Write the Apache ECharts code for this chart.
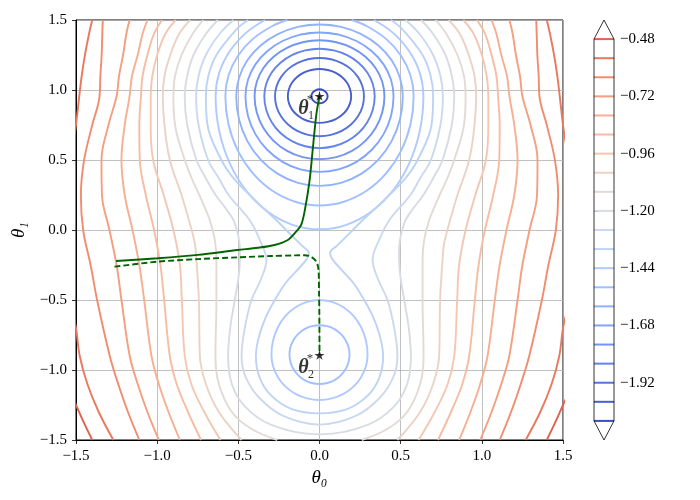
<!DOCTYPE html>
<html><head><meta charset="utf-8">
<script src="https://cdn.jsdelivr.net/npm/echarts@6/dist/echarts.min.js"></script>
<style>html,body{margin:0;padding:0;background:#fff}#c{width:700px;height:500px}</style>
</head><body><div id="c"></div>
<script>
// ---------- data ----------
const levels = [-2.08,-2.00,-1.92,-1.84,-1.76,-1.68,-1.60,-1.52,-1.44,-1.36,-1.28,-1.20,-1.12,-1.04,-0.96,-0.88,-0.80,-0.72,-0.64,-0.56,-0.48];
const cbTicks = [-0.48,-0.72,-0.96,-1.20,-1.44,-1.68,-1.92];

// right half (theta0 >= 0) of every contour level; the left half is its mirror image
const c208 = [[[0,1.005],[0.025,0.998],[0.043,0.98],[0.05,0.955],[0.043,0.93],[0.025,0.912],[0,0.905]]];
const c200 = [[[0,1.15],[0.0505,1.143],[0.0975,1.124],[0.1379,1.093],[0.1689,1.053],[0.1884,1.006],[0.195,0.955],[0.1884,0.906],[0.1689,0.86],[0.1379,0.821],[0.0975,0.79],[0.0505,0.772],[0,0.765]]];
const c192 = [[[0,1.229],[0.0709,1.22],[0.137,1.192],[0.1937,1.149],[0.2373,1.092],[0.2647,1.026],[0.274,0.955],[0.2647,0.881],[0.2373,0.813],[0.1937,0.754],[0.137,0.708],[0.0709,0.68],[0,0.67]]];
const c184 = [[[0,1.295],[0.088,1.283],[0.17,1.249],[0.2404,1.195],[0.2944,1.125],[0.3284,1.043],[0.34,0.955],[0.3284,0.859],[0.2944,0.77],[0.2404,0.693],[0.17,0.635],[0.088,0.598],[0,0.585]]];
const c176 = [[[0,1.355],[0.1035,1.341],[0.2,1.301],[0.2828,1.238],[0.3464,1.155],[0.3864,1.059],[0.4,0.955],[0.3864,0.839],[0.3464,0.73],[0.2828,0.637],[0.2,0.565],[0.1035,0.52],[0,0.505]]];
const c168 = [[[0,1.411],[0.118,1.396],[0.228,1.35],[0.3224,1.277],[0.3949,1.183],[0.4405,1.073],[0.456,0.955],[0.4405,0.815],[0.3949,0.685],[0.3224,0.573],[0.228,0.487],[0.118,0.433],[0,0.415]]];
const c160 = [[[0,1.468],[0.1328,1.451],[0.2565,1.399],[0.3627,1.318],[0.4443,1.212],[0.4955,1.088],[0.513,0.955],[0.4955,0.789],[0.4443,0.635],[0.3627,0.502],[0.2565,0.401],[0.1328,0.337],[0,0.315]]];
const c152 = [
  [[0.198,1.5],[0.29,1.457],[0.4101,1.365],[0.5023,1.245],[0.5602,1.105],[0.58,0.955],[0.5602,0.753],[0.5023,0.565],[0.4101,0.404],[0.29,0.28],[0.1501,0.202],[0,0.175]],
  [[0,-0.68],[0.0479,-0.687],[0.0925,-0.708],[0.1308,-0.742],[0.16,-0.785],[0.1787,-0.836],[0.185,-0.89],[0.1787,-0.944],[0.16,-0.995],[0.1308,-1.038],[0.0925,-1.072],[0.0479,-1.093],[0,-1.10]]
];
const c144 = [
  [[0.336,1.5],[0.453,1.408],[0.554,1.275],[0.618,1.121],[0.64,0.955],[0.618,0.709],[0.554,0.48],[0.453,0.283],[0.32,0.132],[0.166,0.037],[0,0.005]],
  [[0,-0.50],[0.0766,-0.513],[0.148,-0.552],[0.2093,-0.614],[0.2563,-0.695],[0.2859,-0.789],[0.296,-0.89],[0.2859,-0.974],[0.2563,-1.052],[0.2093,-1.119],[0.148,-1.171],[0.0766,-1.203],[0,-1.214]]
];
const c136 = [[[0.44,1.5],[0.514,1.43],[0.635,1.25],[0.685,1.1],[0.70,0.955],[0.69,0.75],[0.604,0.5],[0.53,0.37],[0.43,0.25],[0.34,0.15],[0.265,0.07],[0.18,-0.03],[0.11,-0.11],[0.065,-0.165],[0.08,-0.21],[0.14,-0.29],[0.21,-0.38],[0.275,-0.5],[0.33,-0.62],[0.37,-0.75],[0.392,-0.9],[0.37,-1.05],[0.30,-1.18],[0.17,-1.28],[0,-1.31]]];
const c128 = [[[0.53,1.5],[0.616,1.4],[0.70,1.25],[0.745,1.1],[0.76,0.955],[0.745,0.75],[0.686,0.5],[0.62,0.37],[0.56,0.25],[0.43,0.07],[0.368,-0.07],[0.327,-0.214],[0.36,-0.35],[0.419,-0.5],[0.46,-0.7],[0.48,-0.9],[0.455,-1.05],[0.37,-1.2],[0.22,-1.33],[0,-1.39]]];
const c120 = [[[0.626,1.5],[0.70,1.4],[0.776,1.25],[0.815,1.1],[0.83,0.955],[0.815,0.75],[0.758,0.5],[0.70,0.37],[0.64,0.25],[0.575,0.15],[0.522,0.048],[0.49,-0.143],[0.495,-0.3],[0.522,-0.5],[0.55,-0.7],[0.563,-0.9],[0.54,-1.1],[0.46,-1.26],[0.30,-1.39],[0,-1.46]]];
const c112 = [[[0.716,1.5],[0.782,1.4],[0.85,1.25],[0.89,1.1],[0.90,0.955],[0.89,0.75],[0.83,0.5],[0.78,0.35],[0.74,0.25],[0.676,0.071],[0.645,-0.071],[0.635,-0.214],[0.635,-0.5],[0.641,-0.9],[0.62,-1.1],[0.54,-1.3],[0.42,-1.42],[0.26,-1.5]]];
const c104 = [[[0.796,1.5],[0.865,1.4],[0.919,1.25],[0.955,1.1],[0.965,0.955],[0.955,0.75],[0.922,0.5],[0.85,0.25],[0.799,0.048],[0.768,-0.095],[0.758,-0.214],[0.743,-0.5],[0.737,-0.9],[0.70,-1.1],[0.62,-1.3],[0.48,-1.5]]];
const c096 = [[[0.886,1.5],[0.95,1.4],[1.0,1.25],[1.03,1.1],[1.04,0.955],[1.04,0.75],[1.025,0.5],[0.96,0.25],[0.90,0.0],[0.86,-0.25],[0.848,-0.5],[0.83,-0.9],[0.79,-1.1],[0.71,-1.3],[0.61,-1.5]]];
const c088 = [[[0.97,1.5],[1.02,1.4],[1.06,1.25],[1.09,1.1],[1.10,0.955],[1.11,0.75],[1.107,0.5],[1.07,0.25],[1.019,0.0],[0.98,-0.25],[0.957,-0.5],[0.922,-0.9],[0.88,-1.1],[0.81,-1.3],[0.73,-1.5]]];
const c080 = [[[1.06,1.5],[1.09,1.4],[1.12,1.25],[1.155,1.1],[1.17,0.955],[1.20,0.75],[1.22,0.5],[1.20,0.25],[1.152,0.0],[1.11,-0.25],[1.08,-0.5],[1.035,-0.9],[0.99,-1.1],[0.93,-1.3],[0.86,-1.5]]];
const c072 = [[[1.17,1.5],[1.19,1.4],[1.21,1.25],[1.235,1.1],[1.25,0.955],[1.30,0.75],[1.343,0.5],[1.34,0.25],[1.294,0.0],[1.25,-0.25],[1.22,-0.5],[1.169,-0.9],[1.12,-1.1],[1.06,-1.3],[0.99,-1.5]]];
const c064 = [[[1.335,1.5],[1.338,1.4],[1.342,1.25],[1.35,1.1],[1.355,0.955],[1.40,0.75],[1.45,0.5],[1.47,0.25],[1.456,0.0],[1.41,-0.25],[1.37,-0.5],[1.292,-0.9],[1.24,-1.1],[1.18,-1.3],[1.11,-1.5]]];
const c056 = [
  [[1.40,1.5],[1.42,1.4],[1.445,1.25],[1.465,1.1],[1.48,0.955],[1.50,0.75],[1.52,0.6]],
  [[1.52,-0.6],[1.50,-0.70],[1.477,-0.9],[1.43,-1.1],[1.36,-1.3],[1.27,-1.5]]
];
const c048 = [[[1.52,-1.2],[1.5,-1.25],[1.45,-1.38],[1.40,-1.5]]];
const contourHalves = [c208,c200,c192,c184,c176,c168,c160,c152,c144,c136,c128,c120,c112,c104,c096,c088,c080,c072,c064,c056,c048];

// optimisation paths
const solidPath = [[-1.253,-0.221],[-0.996,-0.202],[-0.75,-0.178],[-0.505,-0.143],[-0.38,-0.127],[-0.277,-0.107],[-0.195,-0.071],[-0.144,-0.012],[-0.113,0.036],[-0.092,0.131],[-0.062,0.345],[-0.041,0.583],[-0.02,0.821],[0,0.957]];
const dashedPath = [[-1.263,-0.262],[-0.996,-0.226],[-0.75,-0.208],[-0.503,-0.195],[-0.30,-0.186],[-0.15,-0.181],[-0.092,-0.18],[-0.049,-0.193],[-0.018,-0.229],[-0.006,-0.286],[-0.003,-0.44],[-0.001,-0.6],[0,-0.893]];
const minima = [[0,0.957],[0,-0.893]];
const minimaIdx = ['1','2'];

// ---------- styles ----------
const levelColors = ['#3b4cc0','#485fd0','#5572df','#6484eb','#7295f4','#82a5fb','#91b3fe','#a0c0ff','#afcafd','#bdd3f6','#cbd9ef','#d7dce3','#e3dad5','#ecd2c4','#f3c8b2','#f7bca2','#f7ae91','#f59e80','#f18c6f','#e9795e','#df634f'];
const FONT = 'Liberation Serif';
const fmt1 = v => (v < 0 ? '\u2212' : '') + Math.abs(v).toFixed(1);
const fmt2 = v => (v < 0 ? '\u2212' : '') + Math.abs(v).toFixed(2);

function mirror(pts){ return pts.map(p => [-p[0], p[1]]); }
function buildPaths(piece){
  const n = piece.length, m = mirror(piece);
  const topC = piece[0][0] === 0, botC = piece[n-1][0] === 0;
  if (topC && botC) return [[m[1]].concat(piece, m.slice(1, n-1).reverse(), [piece[0], piece[1]])];
  if (botC) return [m.slice(0, n-1).concat(piece.slice().reverse())];
  if (topC) return [m.slice(1).reverse().concat(piece)];
  return [piece, m];
}

const series = [];
contourHalves.forEach((pieces, i) => {
  pieces.forEach(piece => {
    buildPaths(piece).forEach(path => {
      series.push({type:'line', xAxisIndex:0, yAxisIndex:0, data:path, smooth:0.38, symbol:'none', silent:true,
        lineStyle:{color:levelColors[i], width:1.9}, z:2});
    });
  });
  series.push({type:'line', xAxisIndex:1, yAxisIndex:1, data:[[0,levels[i]],[1,levels[i]]], symbol:'none', silent:true,
    lineStyle:{color:levelColors[i], width:2}, z:3});
});
// colorbar outline (body + extension triangles)
series.push({type:'line', xAxisIndex:1, yAxisIndex:1, symbol:'none', silent:true, clip:false,
  data:[[0,-0.48],[0.5,-0.40],[1,-0.48],[1,-2.08],[0.5,-2.16],[0,-2.08],[0,-0.48]],
  lineStyle:{color:'#000', width:0.8}, z:4});

series.push({type:'line', data:solidPath, smooth:0.3, symbol:'none', silent:true, lineStyle:{color:'#006400', width:1.9}, z:5});
series.push({type:'line', data:dashedPath, smooth:0.3, symbol:'none', silent:true, lineStyle:{color:'#006400', width:1.9, type:[6,3]}, z:5});

const starPath = 'path://M0,-10L2.23,-3.07L9.51,-3.09L3.61,1.17L5.88,8.09L0,3.8L-5.88,8.09L-3.61,1.17L-9.51,-3.09L-2.23,-3.07Z';
series.push({type:'scatter', data:minima, symbol:starPath, symbolSize:[10,9.5], itemStyle:{color:'#000'}, silent:true, z:6,
  label:{show:true, position:'inside', offset:[-16,13], formatter:'θ', fontFamily:FONT, fontStyle:'italic', fontWeight:'bold', fontSize:20, color:'#000'}});
series.push({type:'scatter', data:minima, symbolSize:1, itemStyle:{color:'transparent'}, silent:true, z:7,
  label:{show:true, position:'inside', offset:[-9.5,4], formatter:'*', fontFamily:FONT, fontSize:13, color:'#000'}});
series.push({type:'scatter', data:minima.map((p,k)=>({value:p, name:minimaIdx[k]})), symbolSize:1, itemStyle:{color:'transparent'}, silent:true, z:7,
  label:{show:true, position:'inside', offset:[-8.5,19.5], formatter:p=>p.name, fontFamily:FONT, fontSize:12, color:'#000'}});

const axisCommon = {
  type:'value', min:-1.5, max:1.5, interval:0.5,
  axisLine:{show:true, onZero:false, lineStyle:{color:'#000', width:1}},
  axisTick:{show:true, inside:false, length:4, lineStyle:{color:'#000', width:0.8}},
  splitLine:{show:true, lineStyle:{color:'#b0b0b0', width:0.8}},
  axisLabel:{formatter:fmt1, color:'#000', fontFamily:FONT, fontSize:15, margin:9},
  nameLocation:'middle', nameTextStyle:{fontFamily:FONT, fontStyle:'italic', fontSize:19, color:'#000'}
};

const chart = echarts.init(document.getElementById('c'), null, {renderer:'canvas'});
chart.setOption({
  animation:false,
  backgroundColor:'#fff',
  grid:[
    {left:76, top:20, width:487, height:420, show:true, borderColor:'#000', borderWidth:1, backgroundColor:'#fff'},
    {left:594, top:20, width:20, height:420}
  ],
  xAxis:[
    Object.assign({}, axisCommon, {gridIndex:0, name:'θ₀', nameGap:25}),
    {type:'value', gridIndex:1, min:0, max:1, show:false}
  ],
  yAxis:[
    Object.assign({}, axisCommon, {gridIndex:0, name:'θ₁', nameGap:42}),
    {type:'value', gridIndex:1, min:-2.16, max:-0.40, position:'right',
      axisLine:{show:false}, splitLine:{show:false},
      axisTick:{show:true, inside:false, length:4, customValues:cbTicks, lineStyle:{color:'#000', width:0.8}},
      axisLabel:{show:true, customValues:cbTicks, formatter:fmt2, margin:6, color:'#000', fontFamily:FONT, fontSize:15}}
  ],
  series
});
</script></body></html>
